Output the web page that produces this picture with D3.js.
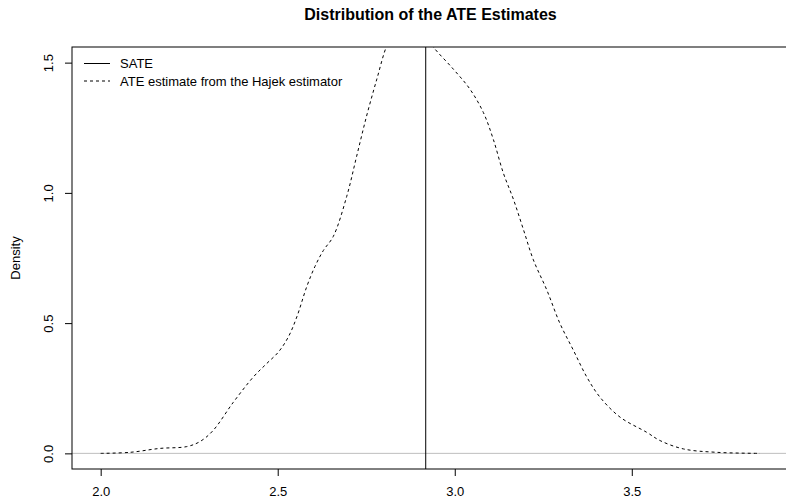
<!DOCTYPE html>
<html>
<head>
<meta charset="utf-8">
<script src="https://cdn.jsdelivr.net/npm/d3@7"></script>
<style>
	body { margin: 0; background: #fff; }
	svg { display: block; font-family: "Liberation Sans", Arial, sans-serif; }
</style>
</head>
<body>
<script>
// kernel density of the Hajek estimates
const densX = [2.0, 2.083, 2.167, 2.243, 2.28, 2.317, 2.374, 2.431, 2.469, 2.502, 2.53, 2.554, 2.582, 2.605, 2.629, 2.657, 2.695, 2.723, 2.751, 2.78, 2.808, 2.83, 2.86, 2.89, 2.92, 2.94, 2.996, 3.043, 3.081, 3.109, 3.137, 3.166, 3.194, 3.222, 3.26, 3.297, 3.335, 3.373, 3.41, 3.467, 3.542, 3.58, 3.646, 3.74, 3.862];
const densY = [0.0, 0.004, 0.019, 0.026, 0.045, 0.087, 0.195, 0.293, 0.345, 0.389, 0.447, 0.524, 0.64, 0.717, 0.779, 0.833, 0.987, 1.141, 1.295, 1.437, 1.565, 1.62, 1.645, 1.64, 1.6, 1.559, 1.475, 1.398, 1.308, 1.205, 1.077, 0.974, 0.859, 0.743, 0.627, 0.499, 0.396, 0.293, 0.216, 0.139, 0.081, 0.049, 0.017, 0.004, 0.0];
const sate = 2.918;
const xTicks = [2.0, 2.5, 3.0, 3.5];
const yTicks = [0.0, 0.5, 1.0, 1.5];
const legendLabels = ['SATE', 'ATE estimate from the Hajek estimator'];
const title = 'Distribution of the ATE Estimates';

class DensityPlot {
	constructor() {
		this._width = 786;
		this._height = 499;
		this._box = {left: 72, right: 789, top: 47, bottom: 469};
		this._fontSize = 13;
		this._scaleX = d3.scaleLinear().domain([1.919, 3.944]).range([this._box.left, this._box.right]);
		this._scaleY = d3.scaleLinear().domain([-0.06, 1.56]).range([this._box.bottom, this._box.top]);
		this._svg = null;
	}
	render() {
		this._svg = d3.select('body')
			.append('svg')
			.attr('width', this._width)
			.attr('height', this._height);
		this.renderClipPath();
		this.renderZeroLine();
		this.renderCurve();
		this.renderSate();
		this.renderAxes();
		this.renderBox();
		this.renderLabels();
		this.renderLegend();
	}
	renderClipPath() {
		this._svg.append('defs')
			.append('clipPath')
			.attr('id', 'plot-clip')
			.append('rect')
			.attr('x', this._box.left)
			.attr('y', this._box.top)
			.attr('width', this._box.right - this._box.left)
			.attr('height', this._box.bottom - this._box.top);
	}
	renderZeroLine() {
		this._svg.append('line')
			.attr('x1', this._box.left)
			.attr('x2', this._box.right)
			.attr('y1', this._scaleY(0))
			.attr('y2', this._scaleY(0))
			.attr('stroke', '#bebebe')
			.attr('stroke-width', 1);
	}
	renderCurve() {
		let line = d3.line()
			.x((d, i) => this._scaleX(densX[i]))
			.y(d => this._scaleY(d))
			.curve(d3.curveCatmullRom);

		this._svg.append('path')
			.attr('clip-path', 'url(#plot-clip)')
			.attr('d', line(densY))
			.attr('fill', 'none')
			.attr('stroke', '#000')
			.attr('stroke-width', 1)
			.attr('stroke-dasharray', '3,3');
	}
	renderSate() {
		let x = this._scaleX(sate);
		this._svg.append('line')
			.attr('x1', x).attr('x2', x)
			.attr('y1', this._box.top).attr('y2', this._box.bottom)
			.attr('stroke', '#000')
			.attr('stroke-width', 1);
	}
	renderAxes() {
		let xAxis = d3.axisBottom(this._scaleX)
			.tickValues(xTicks)
			.tickSize(7)
			.tickFormat(d3.format('.1f'));
		let gx = this._svg.append('g')
			.attr('transform', `translate(0,${this._box.bottom})`)
			.call(xAxis);
		gx.select('.domain').remove();
		gx.selectAll('.tick text')
			.attr('y', 27)
			.attr('dy', 0)
			.attr('font-size', this._fontSize)
			.attr('font-family', '"Liberation Sans", Arial, sans-serif')
			.attr('fill', '#000');

		let yAxis = d3.axisLeft(this._scaleY)
			.tickValues(yTicks)
			.tickSize(7)
			.tickFormat(d3.format('.1f'));
		let gy = this._svg.append('g')
			.attr('transform', `translate(${this._box.left},0)`)
			.call(yAxis);
		gy.select('.domain').remove();
		gy.selectAll('.tick text')
			.attr('transform', 'rotate(-90)')
			.attr('x', 0)
			.attr('y', -19)
			.attr('dy', 0)
			.attr('text-anchor', 'middle')
			.attr('font-size', this._fontSize)
			.attr('font-family', '"Liberation Sans", Arial, sans-serif')
			.attr('fill', '#000');
	}
	renderBox() {
		this._svg.append('rect')
			.attr('x', this._box.left)
			.attr('y', this._box.top)
			.attr('width', this._box.right - this._box.left)
			.attr('height', this._box.bottom - this._box.top)
			.attr('fill', 'none')
			.attr('stroke', '#000')
			.attr('stroke-width', 1);
	}
	renderLabels() {
		let midX = (this._box.left + this._box.right) / 2;
		let midY = (this._box.top + this._box.bottom) / 2;
		this._svg.append('text')
			.attr('x', midX)
			.attr('y', 20)
			.attr('text-anchor', 'middle')
			.attr('font-size', 16)
			.attr('font-weight', 'bold')
			.text(title);

		this._svg.append('text')
			.attr('transform', `translate(20,${midY}) rotate(-90)`)
			.attr('text-anchor', 'middle')
			.attr('font-size', this._fontSize)
			.text('Density');
	}
	renderLegend() {
		let items = this._svg.selectAll('g.legend-item')
			.data(legendLabels)
			.enter()
			.append('g')
			.attr('class', 'legend-item')
			.attr('transform', (d, i) => `translate(84,${63.5 + i * 17.5})`);

		items.append('line')
			.attr('x1', 0).attr('x2', 26)
			.attr('y1', 0).attr('y2', 0)
			.attr('stroke', '#000')
			.attr('stroke-width', 1)
			.attr('stroke-dasharray', (d, i) => i == 1 ? '3,3' : null);

		items.append('text')
			.attr('x', 36)
			.attr('y', 4.5)
			.attr('font-size', this._fontSize)
			.text(d => d);
	}
}

new DensityPlot().render();
</script>
</body>
</html>
